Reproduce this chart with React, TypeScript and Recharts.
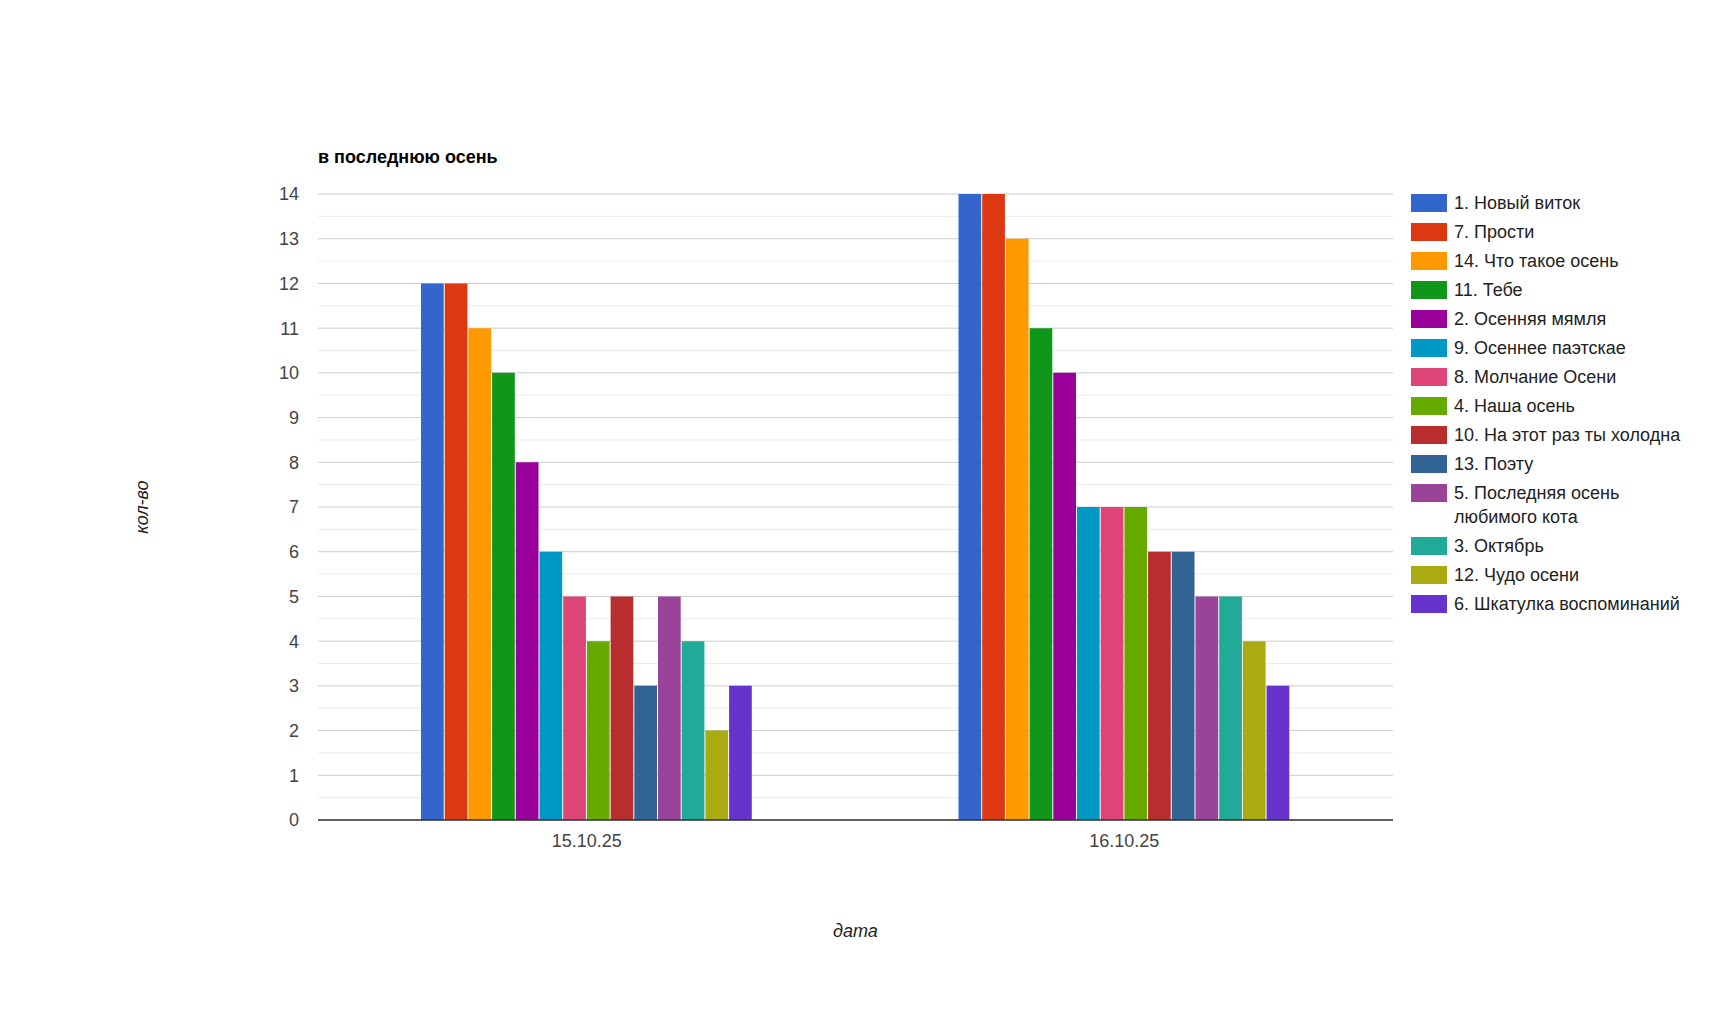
import React from 'react';
import { BarChart, Bar, XAxis, YAxis, CartesianGrid, Legend, Label } from 'recharts';

const categories = ['15.10.25', '16.10.25'];

const seriesNames = [
  '1. Новый виток',
  '7. Прости',
  '14. Что такое осень',
  '11. Тебе',
  '2. Осенняя мямля',
  '9. Осеннее паэтскае',
  '8. Молчание Осени',
  '4. Наша осень',
  '10. На этот раз ты холодна',
  '13. Поэту',
  '5. Последняя осень любимого кота',
  '3. Октябрь',
  '12. Чудо осени',
  '6. Шкатулка воспоминаний',
];

const seriesColors = [
  '#3366cc', '#dc3912', '#ff9900', '#109618', '#990099', '#0099c6', '#dd4477',
  '#66aa00', '#b82e2e', '#316395', '#994499', '#22aa99', '#aaaa11', '#6633cc',
];

const day1Values = [12, 12, 11, 10, 8, 6, 5, 4, 5, 3, 5, 4, 2, 3];
const day2Values = [14, 14, 13, 11, 10, 7, 7, 7, 6, 6, 5, 5, 4, 3];

const yTicks = [
  0, 0.5, 1, 1.5, 2, 2.5, 3, 3.5, 4, 4.5, 5, 5.5, 6, 6.5, 7,
  7.5, 8, 8.5, 9, 9.5, 10, 10.5, 11, 11.5, 12, 12.5, 13, 13.5, 14,
];

const valuesByDay = [day1Values, day2Values];
const data = categories.map((date, ci) => {
  const row: Record<string, string | number> = { date };
  seriesNames.forEach((_, si) => { row[`s${si}`] = valuesByDay[ci][si]; });
  return row;
});

const FONT = 'Arial, "Liberation Sans", sans-serif';

function GridLine(props: any) {
  const { x1, y1, x2, y2, index } = props;
  return (
    <line
      key={`g-${index}`}
      x1={x1} y1={y1} x2={x2} y2={y2}
      stroke={index % 2 === 0 ? '#cccccc' : '#ebebeb'}
      strokeWidth={1}
    />
  );
}

function LegendList({ payload }: { payload?: Array<{ value: string; color: string }> }) {
  if (!payload) return null;
  // keep the series order, not the alphabetical one
  const items = [...payload].sort(
    (a, b) => seriesNames.indexOf(a.value) - seriesNames.indexOf(b.value),
  );
  return (
    <div style={{ fontFamily: FONT, fontSize: 18, color: '#222' }}>
      {items.map(p => (
        <div key={p.value} style={{ display: 'flex', alignItems: 'flex-start', marginBottom: 5 }}>
          <span style={{ width: 36, height: 18, marginTop: 3, background: p.color, flexShrink: 0 }} />
          <span style={{ marginLeft: 7, width: 240, lineHeight: '24px' }}>{p.value}</span>
        </div>
      ))}
    </div>
  );
}

export default function App() {
  return (
    <div style={{ position: 'relative', width: 1695, height: 990 }}>
      <div
        style={{
          position: 'absolute', left: 310, top: 139, fontFamily: FONT,
          fontSize: 18, fontWeight: 'bold', color: '#000', zIndex: 1,
        }}
      >
        в последнюю осень
      </div>
      <BarChart
        width={1695}
        height={990}
        data={data}
        margin={{ top: 186, right: 310, bottom: 148, left: 250 }}
        barSize={22.7}
        barGap={1}
      >
        <CartesianGrid vertical={false} horizontal={GridLine} />
        <XAxis
          dataKey="date"
          height={30}
          tickLine={false}
          tickSize={0}
          tickMargin={14}
          axisLine={{ stroke: '#333', strokeWidth: 1.5 }}
          tick={{ fill: '#444', fontSize: 18, fontFamily: FONT }}
        >
          <Label
            content={(props: any) => {
              const vb = props.viewBox;
              return (
                <text
                  x={vb.x + vb.width / 2}
                  y={vb.y + 117}
                  textAnchor="middle"
                  fontFamily={FONT}
                  fontSize={18}
                  fontStyle="italic"
                  fill="#222"
                >
                  дата
                </text>
              );
            }}
          />
        </XAxis>
        <YAxis
          width={60}
          domain={[0, 14]}
          ticks={yTicks}
          interval={0}
          axisLine={false}
          tickLine={false}
          tickSize={0}
          tickMargin={19}
          tickFormatter={(v: number) => (Number.isInteger(v) ? String(v) : '')}
          tick={{ fill: '#444', fontSize: 18, fontFamily: FONT }}
        >
          <Label
            content={(props: any) => {
              const vb = props.viewBox;
              const cx = vb.x - 116;
              const cy = vb.y + vb.height / 2;
              return (
                <text
                  x={cx}
                  y={cy}
                  dy="0.35em"
                  textAnchor="middle"
                  transform={`rotate(-90, ${cx}, ${cy})`}
                  fontFamily={FONT}
                  fontSize={18}
                  fontStyle="italic"
                  fill="#222"
                >
                  кол-во
                </text>
              );
            }}
          />
        </YAxis>
        <Legend
          layout="vertical"
          align="center"
          verticalAlign="middle"
          wrapperStyle={{ left: 1403, top: 183, width: 285 }}
          content={<LegendList />}
        />
        {seriesNames.map((name, i) => (
          <Bar
            key={name}
            dataKey={`s${i}`}
            name={name}
            fill={seriesColors[i]}
            isAnimationActive={false}
          />
        ))}
      </BarChart>
    </div>
  );
}
